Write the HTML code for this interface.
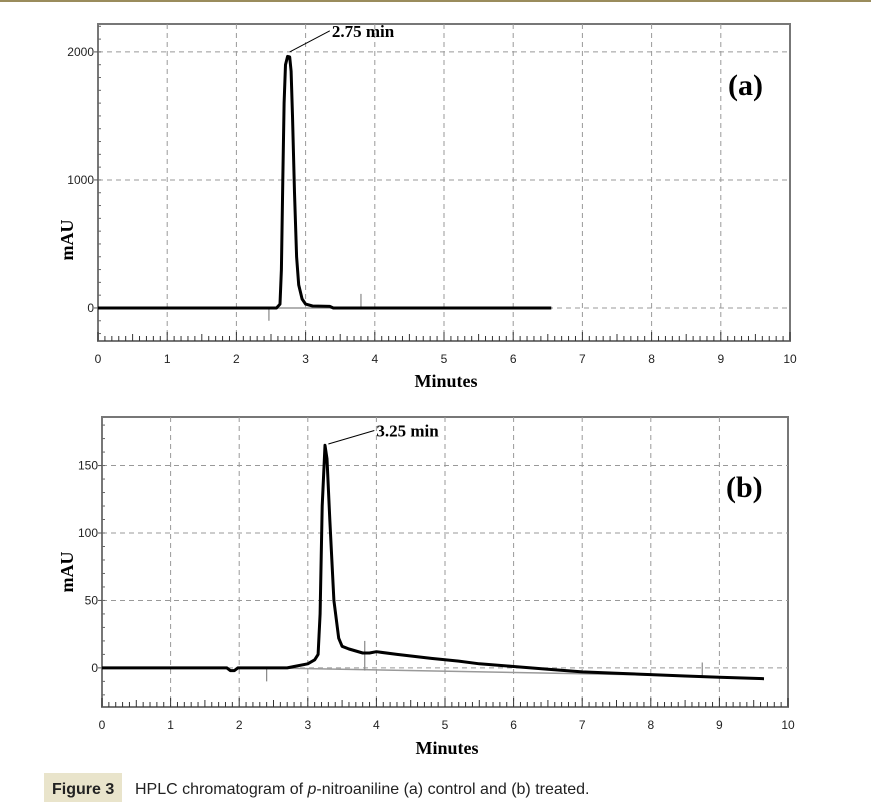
<!DOCTYPE html>
<html><head><meta charset="utf-8"><style>
html,body{margin:0;padding:0;background:#fff;width:871px;height:807px;overflow:hidden}
svg{display:block}
</style></head><body>
<svg id="fig" width="871" height="807" xmlns="http://www.w3.org/2000/svg">
<line x1="0" y1="1" x2="871" y2="1" stroke="#9a8c5c" stroke-width="2"/>
<g id="chartA"></g>
<g id="chartB"></g>
<rect x="44" y="773" width="78" height="29" fill="#e9e4cb"/>
<text x="52" y="794" font-family="Liberation Sans, sans-serif" font-size="16" font-weight="bold" fill="#222">Figure 3</text>
<text x="135" y="794" font-family="Liberation Sans, sans-serif" font-size="16" fill="#222">HPLC chromatogram of <tspan font-style="italic">p</tspan>-nitroaniline (a) control and (b) treated.</text>
</svg>
<script>
// Chart (a) data
const aTimes = [0, 2.58, 2.63, 2.65, 2.67, 2.69, 2.71, 2.74, 2.77, 2.79, 2.81, 2.84, 2.87, 2.9, 2.95, 3.0, 3.1, 3.35, 3.4, 6.55];
const aValues = [0, 0, 30, 300, 1000, 1600, 1900, 1965, 1960, 1850, 1500, 900, 400, 180, 70, 30, 15, 12, 0, 0];
const aYTicks = [0, 1000, 2000];
const aXTicks = [0,1,2,3,4,5,6,7,8,9,10];
const aPeakLabel = "2.75 min";
// Chart (b) data
const bTimes = [0, 1.82, 1.87, 1.93, 1.98, 2.7, 2.8, 3.0, 3.1, 3.15, 3.18, 3.21, 3.25, 3.28, 3.32, 3.38, 3.45, 3.5, 3.6, 3.8, 3.9, 4.0, 4.3, 4.8, 5.2, 5.5, 6.0, 6.5, 7.0, 7.5, 8.0, 8.5, 9.0, 9.65];
const bValues = [0, 0, -2, -2, 0, 0, 1, 3, 6, 10, 40, 120, 165, 155, 110, 50, 22, 16, 14, 11, 11, 12, 10, 7, 5, 3, 1, -1, -3, -4, -5, -6, -7, -8];
const bYTicks = [0, 50, 100, 150];
const bXTicks = [0,1,2,3,4,5,6,7,8,9,10];
const bPeakLabel = "3.25 min";

const NS = "http://www.w3.org/2000/svg";
function mk(parent, tag, attrs){const e=document.createElementNS(NS,tag);for(const k in attrs)e.setAttribute(k,attrs[k]);parent.appendChild(e);return e;}

function drawChart(g, cfg){
  const {L,R,T,B,yMin,yMax,times,values,yTicks,xTicks,minorY,peakLabel,peakT,peakV,lblT,lblV,panel,panelY,titleY,xTitleY,base,marks} = cfg;
  const sx = t => L + (t-0)/(10-0)*(R-L);
  const sy = v => B - (v-yMin)/(yMax-yMin)*(B-T);
  let e = mk(g,'rect',{x:L,y:T,width:R-L,height:B-T,fill:'#fff',stroke:'#777','stroke-width':2});
  
  
  yTicks.forEach(v=>{
    let l=mk(g,'line',{x1:L,x2:R,y1:sy(v),y2:sy(v),stroke:'#999','stroke-dasharray':'5,4','stroke-width':1});
    
    
    let t=mk(g,'text',{x:L-4,y:sy(v)+4,'text-anchor':'end','font-family':'Liberation Sans, sans-serif','font-size':12,fill:'#222'});
    t.textContent=v;
    
    
    mk(g,'line',{x1:L-4,x2:L,y1:sy(v),y2:sy(v),stroke:'#555'});
  });
  for(let v=Math.ceil(yMin/minorY)*minorY; v<=yMax; v+=minorY){
    mk(g,'line',{x1:L,x2:L+3,y1:sy(v),y2:sy(v),stroke:'#666','stroke-width':1});
  }
  xTicks.forEach(t0=>{
    if(t0>0&&t0<10){
      let l=mk(g,'line',{x1:sx(t0),x2:sx(t0),y1:T,y2:B,stroke:'#999','stroke-dasharray':'5,4','stroke-width':1});
      
      
    }
    let t=mk(g,'text',{x:sx(t0),y:B+22,'text-anchor':'middle','font-family':'Liberation Sans, sans-serif','font-size':12,fill:'#222'});
    t.textContent=t0;
    
    
  });
  for(let i=0;i<=100;i++){
    const len = i%10===0?9:(i%5===0?7:5);
    mk(g,'line',{x1:sx(i/10),x2:sx(i/10),y1:B,y2:B-len,stroke:'#333','stroke-width':1});
  }
  let bl=mk(g,'line',{x1:sx(base[0]),y1:sy(base[1]),x2:sx(base[2]),y2:sy(base[3]),stroke:'#999','stroke-width':1.5});
  
  
  marks.forEach(m=>{
    let ml=mk(g,'line',{x1:sx(m[0]),x2:sx(m[0]),y1:sy(m[1]),y2:sy(m[2]),stroke:'#888','stroke-width':1.2});
    
    
  });
  let d = times.map((t,i)=>(i?'L':'M')+sx(t).toFixed(1)+','+sy(values[i]).toFixed(1)).join(' ');
  let p=mk(g,'path',{d:d,fill:'none',stroke:'#000','stroke-width':3,'stroke-linejoin':'round'});
  
  
  let al=mk(g,'line',{x1:sx(peakT),y1:sy(peakV),x2:sx(lblT),y2:sy(lblV),stroke:'#000','stroke-width':1});
  
  
  let pl=mk(g,'text',{x:sx(lblT)+2,y:sy(lblV)+6,'font-family':'Liberation Serif, serif','font-size':17,'font-weight':'bold',fill:'#000'});
  pl.textContent=peakLabel;
  
  
  let pn=mk(g,'text',{x:R-62,y:panelY,'font-family':'Liberation Serif, serif','font-size':30,'font-weight':'bold',fill:'#000'});
  pn.textContent=panel;
  
  
  let yt=mk(g,'text',{x:0,y:0,transform:`translate(73,${titleY}) rotate(-90)`,'text-anchor':'middle','font-family':'Liberation Serif, serif','font-size':18,'font-weight':'bold',fill:'#000'});
  yt.textContent='mAU';
  
  
  let xt=mk(g,'text',{x:(L+R)/2+2,y:xTitleY,'text-anchor':'middle','font-family':'Liberation Serif, serif','font-size':18,'font-weight':'bold',fill:'#000'});
  xt.textContent='Minutes';
  
  
}

drawChart(document.getElementById('chartA'),{L:98,R:790,T:24,B:341,yMin:-258,yMax:2218,times:aTimes,values:aValues,yTicks:aYTicks,xTicks:aXTicks,minorY:100,
  peakLabel:aPeakLabel,peakT:2.77,peakV:2000,lblT:3.35,lblV:2165,panel:'(a)',panelY:95,titleY:240,xTitleY:387,base:[2.6,0,3.8,0],marks:[[2.47,0,-100],[3.8,0,110]]});
drawChart(document.getElementById('chartB'),{L:102,R:788,T:417,B:707,yMin:-29,yMax:186,times:bTimes,values:bValues,yTicks:bYTicks,xTicks:bXTicks,minorY:10,
  peakLabel:bPeakLabel,peakT:3.3,peakV:166,lblT:3.97,lblV:176,panel:'(b)',panelY:497,titleY:572,xTitleY:754,base:[2.4,0,8.75,-6],marks:[[2.4,0,-10],[3.83,-2,20],[8.75,-6,4]]});
</script>
</body></html>
